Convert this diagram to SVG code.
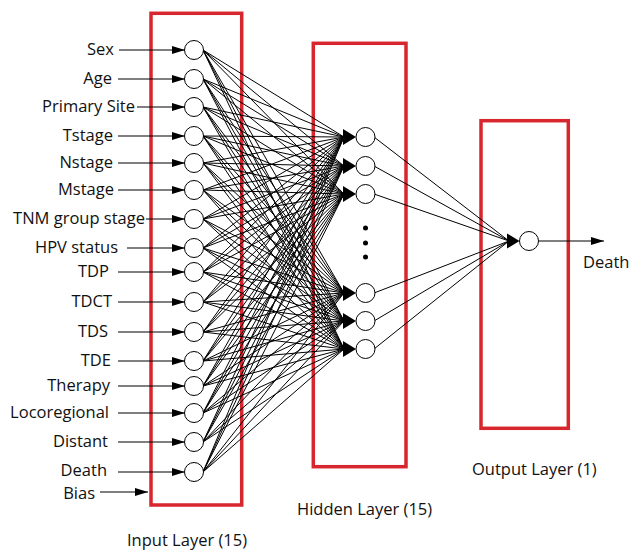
<svg xmlns="http://www.w3.org/2000/svg" width="629" height="550" viewBox="0 0 629 550">
<style>
.box{fill:none;stroke:#d7262e;stroke-width:3.5}
.node{fill:#fff;stroke:#000;stroke-width:1}
.lbl{font-family:"Open Sans","Liberation Sans",sans-serif;font-size:16.5px;fill:#111}
.in{text-anchor:end}
.w{fill:none;stroke:#000;stroke-width:1}
.arr{fill:none;stroke:#000;stroke-width:1.2}
.head{fill:#000}
</style>
<defs>
<marker id="ah" markerUnits="userSpaceOnUse" markerWidth="14" markerHeight="10" refX="13" refY="4" orient="auto">
<path d="M0 0L13 4L0 8Z" fill="#000"/>
</marker>
<path id="bigHead" d="M-13 -8L0 0L-13 8Z"/>
</defs>
<rect width="629" height="550" fill="#fff"/>

<g id="layer-boxes">
<rect id="input-layer-box" class="box" x="151" y="13.3" width="90.7" height="491.7"/>
<rect id="hidden-layer-box" class="box" x="313.3" y="43.3" width="92.7" height="423.4"/>
<rect id="output-layer-box" class="box" x="481" y="120.7" width="87.3" height="307.6"/>
</g>

<g id="connectors">
<g id="input-arrows" class="arr">
<line x1="119" y1="50" x2="185" y2="50" marker-end="url(#ah)"/>
<line x1="118" y1="79" x2="185" y2="79" marker-end="url(#ah)"/>
<line x1="137" y1="107" x2="185" y2="107" marker-end="url(#ah)"/>
<line x1="118" y1="136" x2="185" y2="136" marker-end="url(#ah)"/>
<line x1="118" y1="163" x2="185" y2="163" marker-end="url(#ah)"/>
<line x1="118" y1="190" x2="185" y2="190" marker-end="url(#ah)"/>
<line x1="146" y1="219" x2="185" y2="219" marker-end="url(#ah)"/>
<line x1="127" y1="248" x2="185" y2="248" marker-end="url(#ah)"/>
<line x1="118" y1="272" x2="185" y2="272" marker-end="url(#ah)"/>
<line x1="118" y1="302" x2="185" y2="302" marker-end="url(#ah)"/>
<line x1="118" y1="332" x2="185" y2="332" marker-end="url(#ah)"/>
<line x1="118" y1="361" x2="185" y2="361" marker-end="url(#ah)"/>
<line x1="118" y1="386" x2="185" y2="386" marker-end="url(#ah)"/>
<line x1="118" y1="413" x2="185" y2="413" marker-end="url(#ah)"/>
<line x1="118" y1="442" x2="185" y2="442" marker-end="url(#ah)"/>
<line x1="118" y1="472" x2="185" y2="472" marker-end="url(#ah)"/>
<line x1="100" y1="492" x2="148" y2="492" marker-end="url(#ah)"/>
</g>
<g id="input-hidden" class="w">
<path d="M203 50L344 137M203 50L344 166M203 50L344 194M203 50L344 293M203 50L344 321M203 50L344 349"/>
<path d="M203 79L344 137M203 79L344 166M203 79L344 194M203 79L344 293M203 79L344 321M203 79L344 349"/>
<path d="M203 107L344 137M203 107L344 166M203 107L344 194M203 107L344 293M203 107L344 321M203 107L344 349"/>
<path d="M203 136L344 137M203 136L344 166M203 136L344 194M203 136L344 293M203 136L344 321M203 136L344 349"/>
<path d="M203 163L344 137M203 163L344 166M203 163L344 194M203 163L344 293M203 163L344 321M203 163L344 349"/>
<path d="M203 190L344 137M203 190L344 166M203 190L344 194M203 190L344 293M203 190L344 321M203 190L344 349"/>
<path d="M203 219L344 137M203 219L344 166M203 219L344 194M203 219L344 293M203 219L344 321M203 219L344 349"/>
<path d="M203 248L344 137M203 248L344 166M203 248L344 194M203 248L344 293M203 248L344 321M203 248L344 349"/>
<path d="M203 272L344 137M203 272L344 166M203 272L344 194M203 272L344 293M203 272L344 321M203 272L344 349"/>
<path d="M203 302L344 137M203 302L344 166M203 302L344 194M203 302L344 293M203 302L344 321M203 302L344 349"/>
<path d="M203 332L344 137M203 332L344 166M203 332L344 194M203 332L344 293M203 332L344 321M203 332L344 349"/>
<path d="M203 361L344 137M203 361L344 166M203 361L344 194M203 361L344 293M203 361L344 321M203 361L344 349"/>
<path d="M203 386L344 137M203 386L344 166M203 386L344 194M203 386L344 293M203 386L344 321M203 386L344 349"/>
<path d="M203 413L344 137M203 413L344 166M203 413L344 194M203 413L344 293M203 413L344 321M203 413L344 349"/>
<path d="M203 442L344 137M203 442L344 166M203 442L344 194M203 442L344 293M203 442L344 321M203 442L344 349"/>
<path d="M203 472L344 137M203 472L344 166M203 472L344 194M203 472L344 293M203 472L344 321M203 472L344 349"/>
</g>
<g id="hidden-heads" class="head">
<use href="#bigHead" x="356" y="137"/>
<use href="#bigHead" x="356" y="166"/>
<use href="#bigHead" x="356" y="194"/>
<use href="#bigHead" x="356" y="293"/>
<use href="#bigHead" x="356" y="321"/>
<use href="#bigHead" x="356" y="349"/>
</g>
<g id="hidden-output" class="w">
<path d="M374 137L509 241M374 166L509 241M374 194L509 241M374 293L509 241M374 321L509 241M374 349L509 241"/>
</g>
<path class="head" d="M507 233.5L519.5 241L507 248.5Z"/>
<line id="output-arrow" class="arr" x1="538.5" y1="241" x2="604" y2="241" marker-end="url(#ah)"/>
</g>

<g id="input-nodes">
<g id="in-sex"><circle class="node" cx="194" cy="50" r="9.5"/><text class="lbl in" x="114" y="54.5">Sex</text></g>
<g id="in-age"><circle class="node" cx="194" cy="79" r="9.5"/><text class="lbl in" x="112" y="83.5">Age</text></g>
<g id="in-primary-site"><circle class="node" cx="194" cy="107" r="9.5"/><text class="lbl in" x="135" y="111.5">Primary Site</text></g>
<g id="in-tstage"><circle class="node" cx="194" cy="136" r="9.5"/><text class="lbl in" x="113" y="140.5">Tstage</text></g>
<g id="in-nstage"><circle class="node" cx="194" cy="163" r="9.5"/><text class="lbl in" x="113" y="167.5">Nstage</text></g>
<g id="in-mstage"><circle class="node" cx="194" cy="190" r="9.5"/><text class="lbl in" x="114" y="194.5">Mstage</text></g>
<g id="in-tnm"><circle class="node" cx="194" cy="219" r="9.5"/><text class="lbl in" x="145" y="223.5">TNM group stage</text></g>
<g id="in-hpv"><circle class="node" cx="194" cy="248" r="9.5"/><text class="lbl in" x="118" y="252.5">HPV status</text></g>
<g id="in-tdp"><circle class="node" cx="194" cy="272" r="9.5"/><text class="lbl in" x="109" y="276.5">TDP</text></g>
<g id="in-tdct"><circle class="node" cx="194" cy="302" r="9.5"/><text class="lbl in" x="112" y="306.5">TDCT</text></g>
<g id="in-tds"><circle class="node" cx="194" cy="332" r="9.5"/><text class="lbl in" x="108" y="336.5">TDS</text></g>
<g id="in-tde"><circle class="node" cx="194" cy="361" r="9.5"/><text class="lbl in" x="111" y="365.5">TDE</text></g>
<g id="in-therapy"><circle class="node" cx="194" cy="386" r="9.5"/><text class="lbl in" x="110" y="390.5">Therapy</text></g>
<g id="in-locoregional"><circle class="node" cx="194" cy="413" r="9.5"/><text class="lbl in" x="109" y="417.5">Locoregional</text></g>
<g id="in-distant"><circle class="node" cx="194" cy="442" r="9.5"/><text class="lbl in" x="108" y="446.5">Distant</text></g>
<g id="in-death"><circle class="node" cx="194" cy="472" r="9.5"/><text class="lbl in" x="107" y="476">Death</text></g>
<g id="in-bias"><text class="lbl in" x="95" y="498.5">Bias</text></g>
</g>

<g id="hidden-nodes">
<g id="h1"><circle class="node" cx="365.5" cy="137" r="9.5"/></g>
<g id="h2"><circle class="node" cx="365.5" cy="166" r="9.5"/></g>
<g id="h3"><circle class="node" cx="365.5" cy="194" r="9.5"/></g>
<g id="h-ellipsis"><circle cx="365.5" cy="228" r="2.5"/><circle cx="365.5" cy="243" r="2.5"/><circle cx="365.5" cy="257" r="2.5"/></g>
<g id="h4"><circle class="node" cx="365.5" cy="293" r="9.5"/></g>
<g id="h5"><circle class="node" cx="365.5" cy="321" r="9.5"/></g>
<g id="h6"><circle class="node" cx="365.5" cy="349" r="9.5"/></g>
</g>

<g id="output-node">
<circle class="node" cx="529" cy="241" r="9.5"/>
<text class="lbl" x="583" y="268">Death</text>
</g>

<g id="layer-labels">
<text class="lbl" x="127" y="546">Input Layer (15)</text>
<text class="lbl" x="297" y="515">Hidden Layer (15)</text>
<text class="lbl" x="472" y="475">Output Layer (1)</text>
</g>
</svg>
